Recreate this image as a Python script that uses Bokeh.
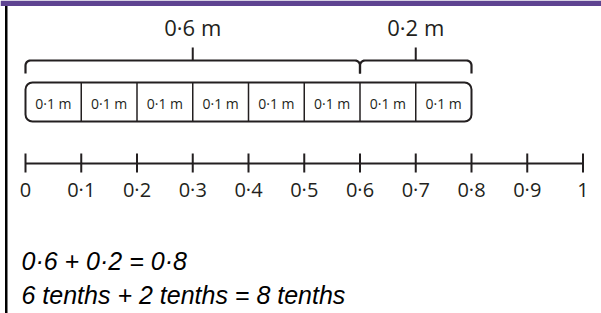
import numpy as np
from bokeh.plotting import figure
from bokeh.models import Range1d, BoxAnnotation, Label
from bokeh.core.properties import value
from bokeh.embed import file_html
from bokeh.resources import INLINE

# ---- data ----
tick_values = [0.0, 0.1, 0.2, 0.3, 0.4, 0.5, 0.6, 0.7, 0.8, 0.9, 1.0]
tick_labels = ["0", "0·1", "0·2", "0·3", "0·4", "0·5", "0·6", "0·7", "0·8", "0·9", "1"]
part_values = [0.1, 0.1, 0.1, 0.1, 0.1, 0.1, 0.1, 0.1]
part_labels = ["0·1 m"] * 8
brace_values = [0.6, 0.2]
brace_labels = ["0·6 m", "0·2 m"]
equation_lines = ["0·6 + 0·2 = 0·8", "6 tenths + 2 tenths = 8 tenths"]

# ---- layout ----
W, H = 601, 313
PX_PER_UNIT = 557.5
X0_PX = 25
x_start = -X0_PX / PX_PER_UNIT
x_end = x_start + W / PX_PER_UNIT
INK = "#231f20"
FONT = "Open Sans"

p = figure(width=W, height=H, x_range=Range1d(x_start, x_end), y_range=Range1d(H, 0),
           output_backend="svg", toolbar_location=None, min_border=0,
           outline_line_color=None, background_fill_color="white")
p.axis.visible = False
p.grid.visible = False

# header band and left rule
p.add_layout(BoxAnnotation(top=0, bottom=5.5, fill_color="#5E4391", fill_alpha=1, line_alpha=0))
p.add_layout(BoxAnnotation(left=4.5, right=7, left_units="screen", right_units="screen",
                           top=5.5, bottom=H, fill_color="black", fill_alpha=1, line_alpha=0))

# ---- bar model ----
edges = np.concatenate([[0.0], np.cumsum(part_values)])
total = edges[-1]
BOX_T, BOX_B = 82, 121
p.quad(left=[edges[0]], right=[total], top=[BOX_T], bottom=[BOX_B], fill_alpha=0,
       line_color=INK, line_width=2, border_radius=7)
p.segment(x0=edges[1:-1], y0=BOX_T, x1=edges[1:-1], y1=BOX_B, line_color=INK, line_width=1.5)
mids = (edges[:-1] + edges[1:]) / 2
p.text(x=mids, y=[102.5] * len(mids), text=part_labels, text_align="center",
       text_baseline="middle", text_font=value(FONT), text_font_size="14px", text_color=INK)

# ---- braces ----
b_edges = np.concatenate([[0.0], np.cumsum(brace_values)])
BR_Y, HOOK_Y, TICK_TOP = 60, 73, 47
r = 5.0
rx = r / PX_PER_UNIT
theta = np.linspace(0, np.pi / 2, 8)
xs_all, ys_all = [], []
for a, b in zip(b_edges[:-1], b_edges[1:]):
    lx = a + rx * (1 - np.cos(theta))
    ly = BR_Y + r * (1 - np.sin(theta))
    rxs = (b - rx) + rx * np.sin(theta)
    rys = BR_Y + r * (1 - np.cos(theta))
    xs = [a] + list(lx) + list(rxs) + [b]
    ys = [HOOK_Y] + list(ly) + list(rys) + [HOOK_Y]
    xs_all.append(xs)
    ys_all.append(ys)
p.multi_line(xs=xs_all, ys=ys_all, line_color=INK, line_width=2.2, line_join="round")
centers = (b_edges[:-1] + b_edges[1:]) / 2
p.segment(x0=centers, y0=TICK_TOP, x1=centers, y1=BR_Y, line_color=INK, line_width=2)
p.text(x=centers, y=[26] * len(centers), text=brace_labels, text_align="center",
       text_baseline="middle", text_font=value(FONT), text_font_size="22px", text_color=INK)

# ---- number line ----
NL_Y = 163
p.segment(x0=[tick_values[0]], y0=[NL_Y], x1=[tick_values[-1]], y1=[NL_Y], line_color=INK, line_width=2)
p.segment(x0=tick_values, y0=153, x1=tick_values, y1=172, line_color=INK, line_width=2)
p.text(x=tick_values, y=[189] * len(tick_values), text=tick_labels, text_align="center",
       text_baseline="middle", text_font=value(FONT), text_font_size="20px", text_color=INK)

# ---- equations ----
for line, yc in zip(equation_lines, [260, 294]):
    p.add_layout(Label(x=21, x_units="screen", y=yc, text=line, text_baseline="middle",
                       text_font="Liberation Sans", text_font_style="italic",
                       text_font_size="25px", text_color="black"))

open("out.html", "w").write(file_html(p, INLINE))
